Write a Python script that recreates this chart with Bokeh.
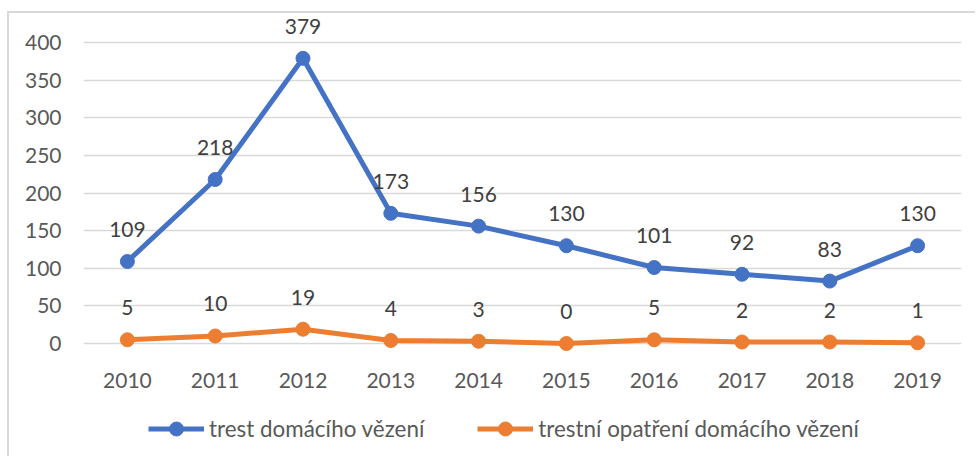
from bokeh.plotting import figure
from bokeh.layouts import column, row
from bokeh.models import FactorRange, Range1d, FixedTicker, Legend, LegendItem, ColumnDataSource, Spacer
from bokeh.core.properties import value
from bokeh.embed import file_html
from bokeh.resources import INLINE

years = ["2010", "2011", "2012", "2013", "2014", "2015", "2016", "2017", "2018", "2019"]
trest = [109, 218, 379, 173, 156, 130, 101, 92, 83, 130]
opatreni = [5, 10, 19, 4, 3, 0, 5, 2, 2, 1]
y_ticks = [0, 50, 100, 150, 200, 250, 300, 350, 400]
series_names = ["trest domácího vězení", "trestní opatření domácího vězení"]

BLUE = "#4472C4"
ORANGE = "#ED7D31"
FONT = "Lato"
FS = "21px"

p = figure(width=968, height=445, x_range=FactorRange(*years, range_padding=0),
           y_range=Range1d(-152.8, 434.6), output_backend="svg", toolbar_location=None,
           min_border_left=74, min_border_right=16, min_border_top=3, min_border_bottom=0)
p.styles = {"border-left": "2px solid #d9d9d9", "border-top": "2px solid #d9d9d9"}
p.outline_line_color = None
p.xgrid.grid_line_color = None
p.ygrid.grid_line_color = "#d9d9d9"
p.ygrid.grid_line_width = 1.5
p.yaxis.ticker = FixedTicker(ticks=y_ticks)
for ax in (p.xaxis, p.yaxis):
    ax.axis_line_color = None
    ax.major_tick_line_color = None
    ax.minor_tick_line_color = None
    ax.major_label_text_font = FONT
    ax.major_label_text_font_size = FS
    ax.major_label_text_color = "#595959"
p.yaxis.major_label_standoff = 16
p.xaxis.major_label_standoff = 6
p.xaxis.fixed_location = -22.6

src = ColumnDataSource(dict(x=years, a=trest, b=opatreni,
                            la=[str(v) for v in trest], lb=[str(v) for v in opatreni]))

l1 = p.line("x", "a", source=src, line_color=BLUE, line_width=5)
s1 = p.scatter("x", "a", source=src, size=14, fill_color=BLUE, line_color=BLUE)
l2 = p.line("x", "b", source=src, line_color=ORANGE, line_width=5)
s2 = p.scatter("x", "b", source=src, size=14, fill_color=ORANGE, line_color=ORANGE)

for col in ("a", "b"):
    p.text("x", col, text="l" + col, source=src, y_offset=-32, text_align="center",
           text_baseline="middle", text_font=value(FONT), text_font_size=FS,
           text_color="#404040")

legend = Legend(items=[LegendItem(label=series_names[0], renderers=[l1, s1]),
                       LegendItem(label=series_names[1], renderers=[l2, s2])],
                orientation="horizontal", location=(65, 12), spacing=53,
                glyph_width=56, glyph_height=35, label_standoff=5, padding=0, margin=0,
                border_line_color=None, background_fill_alpha=0,
                label_text_font=FONT, label_text_font_size="22.4px", label_text_color="#595959")
p.add_layout(legend, "center")

layout = column(Spacer(height=11), row(Spacer(width=7), p))
open("out.html", "w").write(file_html(layout, INLINE))
